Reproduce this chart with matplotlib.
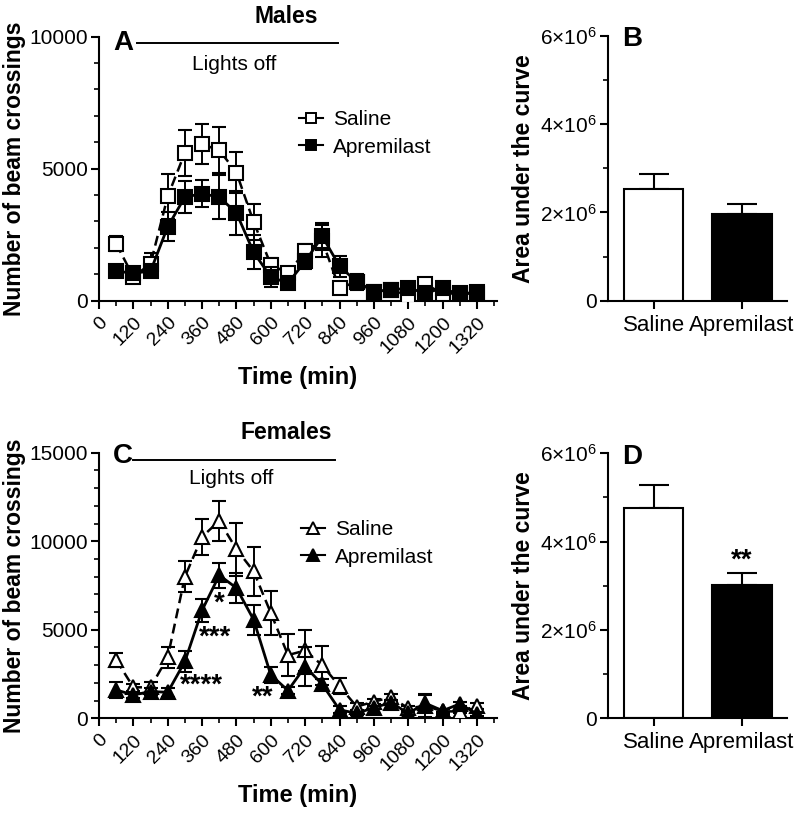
import matplotlib
matplotlib.use("Agg")
import matplotlib.pyplot as plt
from matplotlib.ticker import MultipleLocator, FuncFormatter
from matplotlib.lines import Line2D
import numpy as np

plt.rcParams['font.family'] = ['Liberation Sans', 'DejaVu Sans']
plt.rcParams['mathtext.fontset'] = 'custom'
plt.rcParams['mathtext.rm'] = 'Liberation Sans'
plt.rcParams['mathtext.it'] = 'Liberation Sans'

# ---------------- data ----------------
time_min = [60, 120, 180, 240, 300, 360, 420, 480, 540, 600, 660, 720,
            780, 840, 900, 960, 1020, 1080, 1140, 1200, 1260, 1320]
x_ticks = [0, 120, 240, 360, 480, 600, 720, 840, 960, 1080, 1200, 1320]

male_saline = [2150, 900, 1390, 3950, 5600, 5920, 5700, 4850, 2980, 1360, 1030, 1870,
               2250, 460, 720, 340, 400, 180, 630, 250, 280, 250]
male_saline_sem = [280, 120, 400, 850, 880, 760, 860, 780, 680, 250, 250, 280,
                   600, 150, 200, 100, 120, 100, 150, 100, 100, 100]
male_apre = [1110, 1040, 1110, 2800, 3920, 4050, 3920, 3320, 1830, 890, 660, 1480,
             2430, 1300, 710, 340, 400, 470, 280, 470, 220, 340]
male_apre_sem = [150, 100, 150, 550, 600, 500, 830, 830, 650, 380, 150, 300,
                 500, 400, 300, 100, 100, 100, 100, 100, 100, 100]

female_saline = [3300, 1750, 1750, 3450, 8000, 10250, 11150, 9550, 8300, 5950, 3570, 3830,
                 2990, 1810, 660, 940, 1190, 570, 700, 400, 380, 700]
female_saline_sem = [400, 200, 300, 600, 870, 1000, 1150, 1500, 1400, 1250, 1200, 1170,
                     1100, 450, 200, 150, 200, 150, 600, 150, 100, 150]
female_apre = [1600, 1320, 1510, 1470, 3210, 6100, 8080, 7360, 5570, 2450, 1570, 2920,
               1910, 480, 280, 600, 890, 280, 850, 430, 810, 250]
female_apre_sem = [450, 150, 200, 250, 600, 650, 700, 850, 850, 450, 200, 1100,
                   300, 200, 100, 100, 150, 100, 500, 100, 100, 100]

groups = ['Saline', 'Apremilast']
auc_male = [2.52e6, 1.955e6]
auc_male_sem = [0.34e6, 0.23e6]
auc_female = [4.77e6, 3.01e6]
auc_female_sem = [0.51e6, 0.27e6]

# significance marks (female apremilast)
female_stars = [(420, '*', 6500), (405, '***', 4550), (358, '****', 1850), (571, '**', 1150)]

# ---------------- figure ----------------
W, H = 800, 814
fig = plt.figure(figsize=(W / 100, H / 100), dpi=100)

def ax_px(left, right, top, bottom):
    return fig.add_axes([left / W, 1 - bottom / H, (right - left) / W, (bottom - top) / H])

axA = ax_px(99, 497, 36.7, 300.5)
axB = ax_px(608, 787, 35.7, 300.7)
axC = ax_px(99, 497, 452.7, 718.3)
axD = ax_px(608, 787, 453.3, 718.3)

LAB_FS = 16.5

def style_axes(ax):
    for s in ['top', 'right']:
        ax.spines[s].set_visible(False)
    for s in ['left', 'bottom']:
        ax.spines[s].set_linewidth(1.5)
    ax.tick_params(which='major', direction='out', length=6, width=1.5, labelsize=14)
    ax.tick_params(axis='y', which='major', labelsize=15, pad=2)
    ax.tick_params(which='minor', direction='out', length=3.5, width=1.2)

def time_panel(ax, sal, sal_sem, apr, apr_sem, ymax, ymajor, marker, letter,
               title, lights_x, lights_y, text_y, letter_y, leg_pos):
    style_axes(ax)
    ms = 9.5 if marker == 's' else 10.5
    ax.errorbar(time_min, sal, yerr=sal_sem, color='black', ls=(0, (4, 2.2)), lw=1.8,
                marker=marker, ms=ms, mfc='white', mec='black',
                mew=1.5, capsize=5, elinewidth=1.4, capthick=1.4, label='Saline', zorder=3)
    ax.errorbar(time_min, apr, yerr=apr_sem, color='black', ls='-', lw=2.0,
                marker=marker, ms=ms, mfc='black', mec='black',
                mew=1.5, capsize=5, elinewidth=1.4, capthick=1.4, label='Apremilast', zorder=4)
    ax.set_xlim(0, 1390)
    ax.set_ylim(0, ymax)
    ax.set_xticks(x_ticks)
    ax.set_xticklabels([str(t) for t in x_ticks], rotation=45, ha='right',
                       rotation_mode='anchor')
    ax.xaxis.set_minor_locator(MultipleLocator(60))
    ax.yaxis.set_major_locator(MultipleLocator(ymajor))
    ax.yaxis.set_minor_locator(MultipleLocator(1000))
    ax.set_xlabel('Time (min)', fontsize=17, fontweight='bold', labelpad=7)
    ax.set_ylabel('Number of beam crossings', fontsize=LAB_FS, fontweight='bold', labelpad=2)
    ax.plot(lights_x, [lights_y, lights_y], color='black', lw=1.4, clip_on=False)
    ax.text(np.mean(lights_x) - 10, text_y, 'Lights off', ha='center', va='center',
            fontsize=15)
    ax.text(85, letter_y, letter, ha='center', va='center', fontsize=20, fontweight='bold')
    ax.set_title(title, fontsize=16.5, fontweight='bold', pad=10)
    hm = 7.5 if marker == 's' else 8.5
    h = [Line2D([], [], color='black', ls='-', lw=1.5, marker=marker, ms=hm,
                mfc='white', mec='black', mew=1.4),
         Line2D([], [], color='black', ls='-', lw=1.5, marker=marker, ms=hm,
                mfc='black', mec='black', mew=1.4)]
    ax.legend(h, ['Saline', 'Apremilast'], loc='upper left',
              bbox_to_anchor=(leg_pos[0] / W, 1 - leg_pos[1] / H),
              bbox_transform=fig.transFigure, frameon=False, fontsize=15,
              handlelength=1.15, handletextpad=0.45, labelspacing=0.4, borderpad=0)

time_panel(axA, male_saline, male_saline_sem, male_apre, male_apre_sem, 10000, 5000,
           's', 'A', 'Males', [131, 835], 9750, 8930, 9750, (289, 100))
time_panel(axC, female_saline, female_saline_sem, female_apre, female_apre_sem, 15000, 5000,
           '^', 'C', 'Females', [120, 825], 14570, 13530, 14800, (291, 510))
axA.title.set_position((0.47, 1.0))
axC.title.set_position((0.47, 1.0))

for xv, s, yv in female_stars:
    axC.text(xv, yv, s, ha='center', va='center', fontsize=20, fontweight='bold')

def bar_panel(ax, vals, sems, letter, star=None):
    style_axes(ax)
    xs = np.arange(len(groups))
    ax.bar(xs, vals, width=0.67, color=['white', 'black'], edgecolor='black', lw=1.5,
           zorder=2)
    ax.errorbar(xs, vals, yerr=[[0, 0], sems], fmt='none', ecolor='black',
                elinewidth=1.5, capsize=11, capthick=1.5, zorder=1)
    ax.set_xlim(-0.52, 1.51)
    ax.set_ylim(0, 6e6)
    ax.set_xticks(xs)
    ax.set_xticklabels(groups, fontsize=16)
    ax.tick_params(axis='x', pad=4)
    ax.yaxis.set_major_locator(MultipleLocator(2e6))
    ax.yaxis.set_minor_locator(MultipleLocator(1e6))
    ax.yaxis.set_major_formatter(FuncFormatter(
        lambda v, p: '0' if v == 0 else f'{int(round(v / 1e6))}×10$^{{6}}$'))
    ax.set_ylabel('Area under the curve', fontsize=LAB_FS, fontweight='bold', labelpad=4)
    ax.text(-0.25, 5.92e6, letter, ha='center', va='center', fontsize=20, fontweight='bold')
    if star:
        ax.text(1, vals[1] + sems[1] + 0.3e6, star, ha='center', va='center',
                fontsize=20, fontweight='bold')

bar_panel(axB, auc_male, auc_male_sem, 'B')
bar_panel(axD, auc_female, auc_female_sem, 'D', star='**')

fig.savefig('out.png', dpi=100)
